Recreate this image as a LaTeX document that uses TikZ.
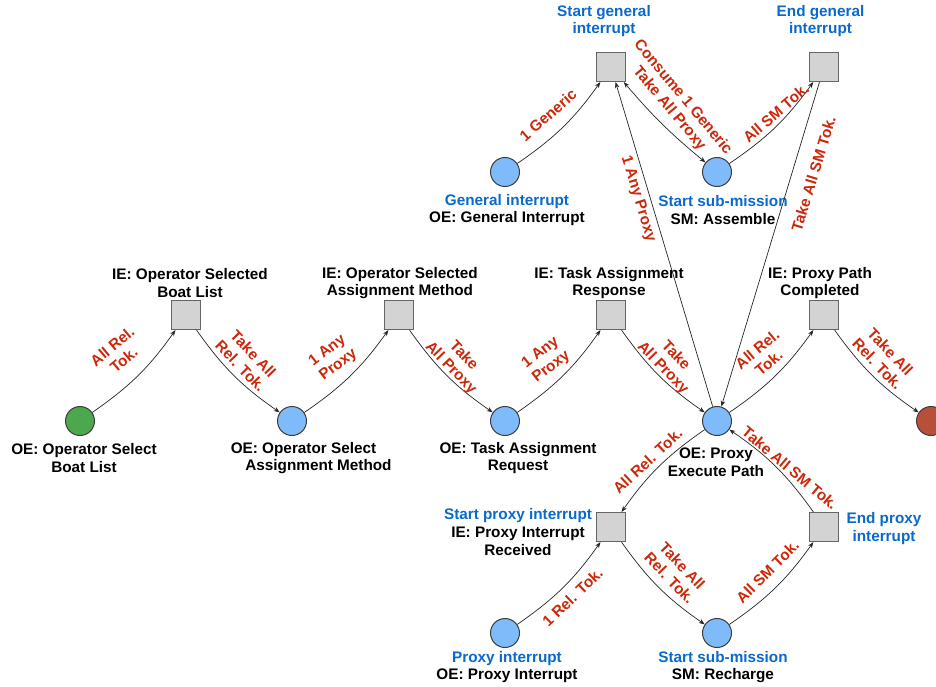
\documentclass[tikz,border=0pt]{standalone}
\usepackage{fontspec}
\setmainfont{Liberation Sans}
\usetikzlibrary{arrows.meta}

\definecolor{tokred}{RGB}{204,40,10}
\definecolor{capblue}{RGB}{10,105,205}
\definecolor{evblue}{RGB}{127,186,250}
\definecolor{evgreen}{RGB}{77,168,77}
\definecolor{evred}{RGB}{184,80,56}
\definecolor{gatefill}{RGB}{211,211,211}
\definecolor{gateline}{RGB}{102,102,102}
\definecolor{evline}{RGB}{60,60,60}

\begin{document}
\begin{tikzpicture}[x=1pt,y=-1pt,
  event/.style={circle, draw=evline, line width=1pt, fill=evblue,
                minimum size=29pt, inner sep=0pt},
  gate/.style={rectangle, draw=gateline, line width=1.2pt, fill=gatefill,
               minimum size=29pt, inner sep=0pt},
  caption/.style={font=\fontsize{15.3pt}{17.7pt}\selectfont\bfseries,
                  align=center, inner sep=0pt},
  tok/.style={font=\fontsize{15.3pt}{17.7pt}\selectfont\bfseries,
              text=tokred, align=center, inner sep=0pt},
  flow/.style={draw=black!85, line width=0.7pt,
               -{Stealth[length=6pt,width=4.5pt]}},
  wave/.style={flow, bend right=10}
]
\useasboundingbox (0,0) rectangle (936,687);
\fill[white] (0,0) rectangle (936,687);

% main chain of events and gates
\node[event, fill=evgreen] (obl) at (80,421) {};
\node[gate]  (iob) at (186,315) {};
\node[event] (oam) at (292,421) {};
\node[gate]  (iam) at (399,315) {};
\node[event] (otr) at (505,421) {};
\node[gate]  (itr) at (611,315) {};
\node[event] (oep) at (717,421) {};
\node[gate]  (ipc) at (824,315) {};
\node[event, fill=evred] (fin) at (931,421) {};

% general interrupt branch
\node[event] (gi)  at (505,172) {};
\node[gate]  (sgi) at (611,67) {};
\node[event] (sma) at (717,172) {};
\node[gate]  (egi) at (824,67) {};

% proxy interrupt branch
\node[gate]  (spi) at (611,527) {};
\node[event] (pi)  at (505,633) {};
\node[event] (smr) at (717,633) {};
\node[gate]  (epi) at (824,527) {};

% captions
\node[caption] (obl-t) at (84,458) {OE: Operator Select\\Boat List};
\node[caption] (iob-t) at (190,283) {IE: Operator Selected\\Boat List};
\node[caption] (oam-t) at (318.5,458) {OE: Operator Select\hspace*{30pt}\\Assignment Method};
\node[caption] (iam-t) at (400,283) {IE: Operator Selected\\Assignment Method};
\node[caption] (otr-t) at (518,458) {OE: Task Assignment\\Request};
\node[caption] (itr-t) at (609,283) {IE: Task Assignment\\Response};
\node[caption] (oep-t) at (716,462) {OE: Proxy\\Execute Path};
\node[caption] (ipc-t) at (820,283) {IE: Proxy Path\\Completed};
\node[caption] (gi-t)  at (507,210) {\textcolor{capblue}{General interrupt}\\OE: General Interrupt};
\node[caption, text=capblue] (sgi-t) at (604,21) {Start general\\interrupt};
\node[caption] (sma-t) at (723,210) {\textcolor{capblue}{Start sub-mission}\\SM: Assemble};
\node[caption, text=capblue] (egi-t) at (820.5,21) {End general\\interrupt};
\node[caption] (spi-t) at (518,532) {\textcolor{capblue}{Start proxy interrupt}\\IE: Proxy Interrupt\\Received};
\node[caption, text=capblue] (epi-t) at (884,528.5) {End proxy\\interrupt};
\node[caption] (pi-t)  at (507,667) {\textcolor{capblue}{Proxy interrupt}\\OE: Proxy Interrupt};
\node[caption] (smr-t) at (723,667) {\textcolor{capblue}{Start sub-mission}\\SM: Recharge};

% main chain connectors
\draw[wave] (obl) to (iob);
\node[tok, rotate=40]  (t1) at (118,353) {All Rel.\\Tok.};
\draw[wave] (iob) to (oam);
\node[tok, rotate=-46] (t2) at (247,360) {Take All\\Rel. Tok.};
\draw[wave] (oam) to (iam);
\node[tok, rotate=38]  (t3) at (333,358) {1 Any\\Proxy};
\draw[wave] (iam) to (otr);
\node[tok, rotate=-46] (t4) at (457,362) {Take\\All Proxy};
\draw[wave] (otr) to (itr);
\node[tok, rotate=38]  (t5) at (546,360) {1 Any\\Proxy};
\draw[wave] (itr) to (oep);
\node[tok, rotate=-46] (t6) at (669,362) {Take\\All Proxy};
\draw[wave] (oep) to (ipc);
\node[tok, rotate=40]  (t7) at (763,356) {All Rel.\\Tok.};
\draw[wave] (ipc) to (fin);
\node[tok, rotate=-46] (t8) at (884,358) {Take All\\Rel. Tok.};

% general interrupt connectors
\draw[wave] (gi) to (sgi);
\node[tok, rotate=41]  (t9) at (548,115) {1 Generic};
\draw[flow, {Stealth[length=6pt,width=4.5pt]}-{Stealth[length=6pt,width=4.5pt]}, bend right=5] (sgi) to (sma);
\node[tok, rotate=-50] (t10) at (676,103) {Consume 1 Generic\\Take All Proxy};
\draw[wave] (sma) to (egi);
\node[tok, rotate=41]  (t11) at (776,113) {All SM Tok.};
\draw[flow] (oep) -- (sgi);
\node[tok, rotate=-73] (t12) at (638,199) {1 Any Proxy};
\draw[flow] (egi) -- (oep);
\node[tok, rotate=73]  (t13) at (813.5,174) {Take All SM Tok.};

% proxy interrupt connectors
\draw[wave] (oep) to (spi);
\node[tok, rotate=43]  (t14) at (647.5,461) {All Rel. Tok.};
\draw[wave] (spi) to (smr);
\node[tok, rotate=-46] (t15) at (676,572) {Take All\\Rel. Tok.};
\draw[wave] (pi) to (spi);
\node[tok, rotate=44]  (t16) at (572.5,597) {1 Rel. Tok.};
\draw[wave] (smr) to (epi);
\node[tok, rotate=45]  (t17) at (767.5,571.5) {All SM Tok.};
\draw[wave] (epi) to (oep);
\node[tok, rotate=-40] (t18) at (790,468) {Take All SM Tok.};
\end{tikzpicture}
\end{document}
